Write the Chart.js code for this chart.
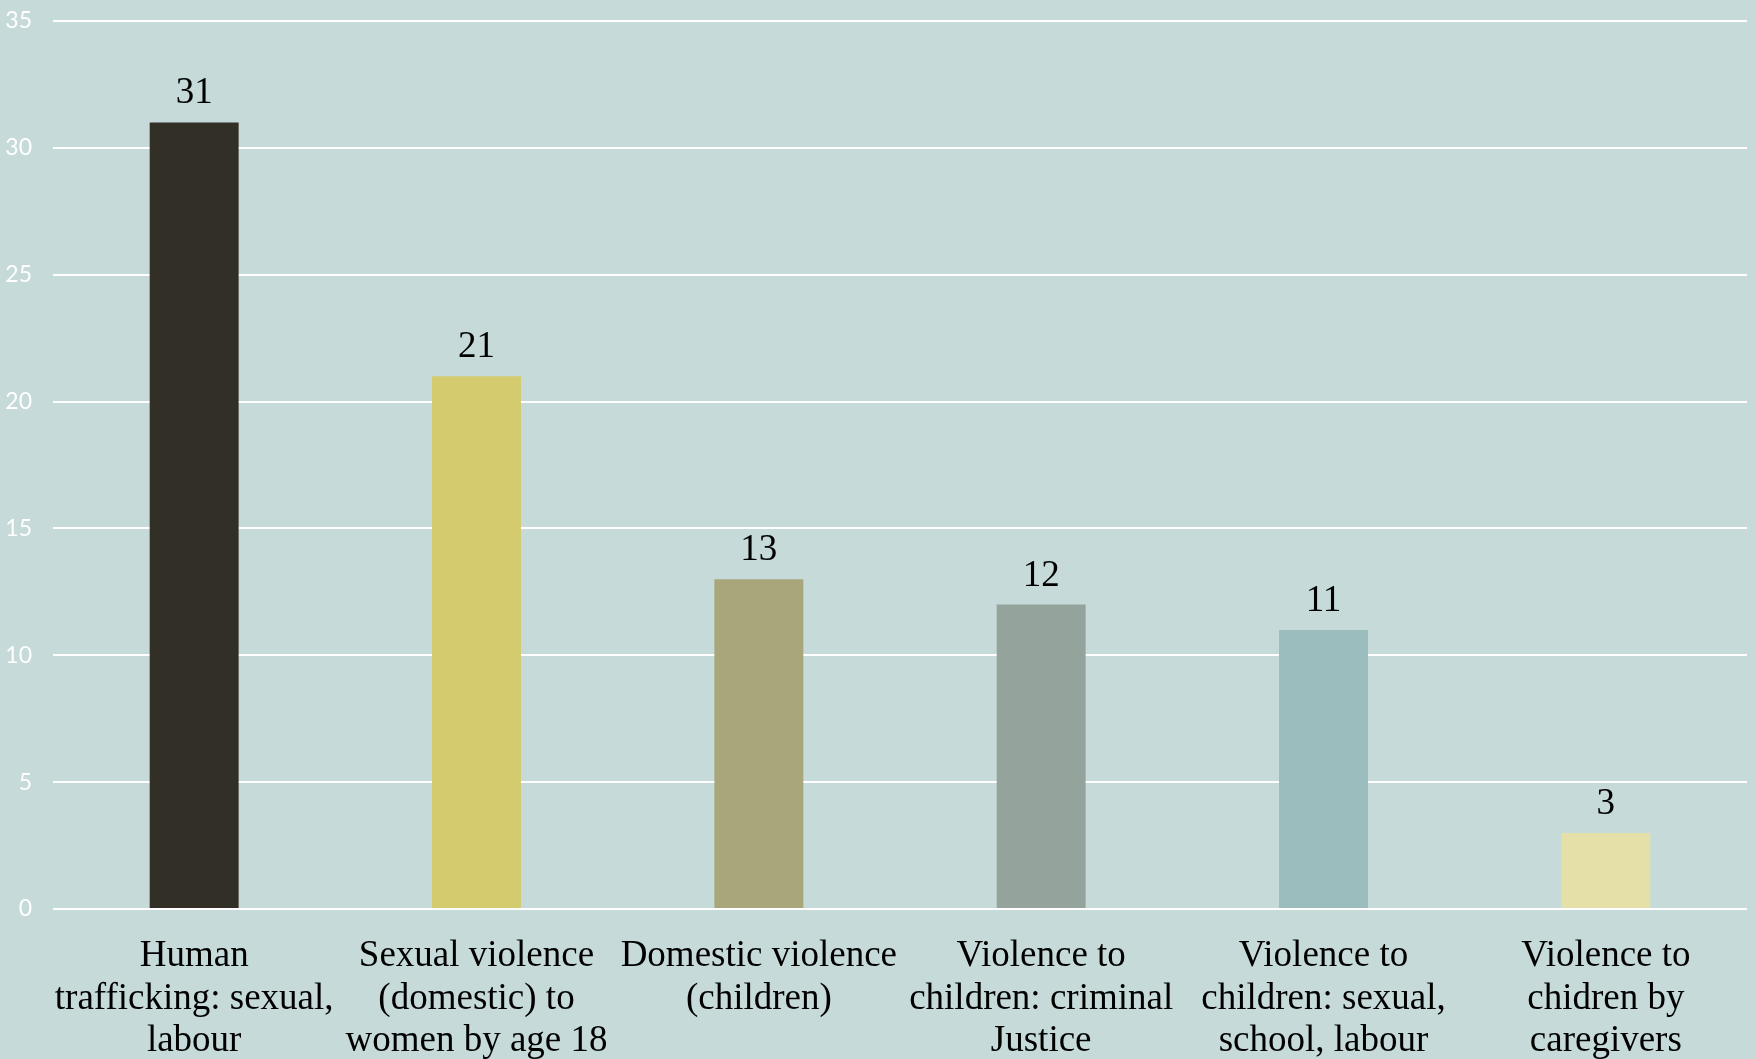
<!DOCTYPE html>
<html>
<head>
<meta charset="utf-8">
<script src="https://cdn.jsdelivr.net/npm/chart.js@4/dist/chart.umd.min.js"></script>
<style>
  html, body { margin: 0; padding: 0; background: #c5dad9; }
  #wrap { width: 1756px; height: 1059px; }
</style>
</head>
<body>
<div id="wrap"><canvas id="c" width="1756" height="1059"></canvas></div>
<script>
const categories = [
  ["Human", "trafficking: sexual,", "labour"],
  ["Sexual violence", "(domestic) to", "women by age 18"],
  ["Domestic violence", "(children)"],
  ["Violence to", "children: criminal", "Justice"],
  ["Violence to", "children: sexual,", "school, labour"],
  ["Violence to", "chidren by", "caregivers"]
];
const values = [31, 21, 13, 12, 11, 3];
const barColors = ["#322f27", "#d3cb6d", "#a9a67c", "#94a39b", "#9bbdbd", "#e4e0a8"];
const yTicks = [0, 5, 10, 15, 20, 25, 30, 35];

const bgPlugin = {
  id: 'bg',
  beforeDraw(chart) {
    const ctx = chart.ctx;
    ctx.save();
    ctx.fillStyle = '#c5dad9';
    ctx.fillRect(0, 0, chart.width, chart.height);
    ctx.restore();
  }
};

const valueLabels = {
  id: 'valueLabels',
  afterDatasetsDraw(chart) {
    const ctx = chart.ctx;
    const meta = chart.getDatasetMeta(0);
    ctx.save();
    ctx.font = '37px "Liberation Serif", "Times New Roman", serif';
    ctx.fillStyle = '#000000';
    ctx.textAlign = 'center';
    ctx.textBaseline = 'alphabetic';
    meta.data.forEach((bar, i) => {
      ctx.fillText(String(values[i]), bar.x, bar.y - 19);
    });
    ctx.restore();
  }
};

new Chart(document.getElementById('c'), {
  type: 'bar',
  data: {
    labels: categories,
    datasets: [{
      data: values,
      backgroundColor: barColors,
      borderWidth: 0,
      categoryPercentage: 1,
      barPercentage: 0.315
    }]
  },
  options: {
    responsive: false,
    animation: false,
    layout: { padding: { top: 21, right: 9, left: 0, bottom: 0 } },
    plugins: { legend: { display: false }, tooltip: { enabled: false } },
    scales: {
      x: {
        grid: { display: false },
        border: { display: false },
        ticks: {
          color: '#000000',
          font: { family: '"Liberation Serif", "Times New Roman", serif', size: 37, lineHeight: 1.15 },
          padding: 18,
          maxRotation: 0,
          autoSkip: false
        },
        afterFit(scale) { scale.height = 150; scale.paddingLeft = 0; scale.paddingRight = 0; }
      },
      y: {
        min: 0,
        max: 35,
        afterBuildTicks(scale) { scale.ticks = yTicks.map(v => ({ value: v })); },
        grid: { color: '#ffffff', lineWidth: 2, drawTicks: false },
        border: { display: false },
        ticks: {
          color: '#ffffff',
          font: { family: 'Lato, "Open Sans", sans-serif', size: 23 },
          padding: 21
        },
        afterFit(scale) { scale.width = 53; scale.paddingTop = 0; scale.paddingBottom = 0; }
      }
    }
  },
  plugins: [bgPlugin, valueLabels]
});
</script>
</body>
</html>
